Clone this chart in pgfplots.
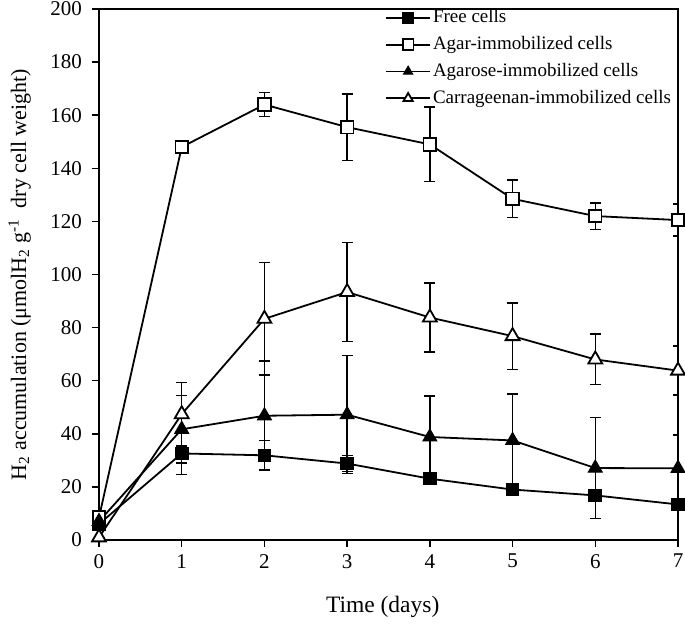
\documentclass[border=0pt]{standalone}
\usepackage{pgfplots}
\pgfplotsset{compat=1.18}
\usepackage{pgfplotstable}
\usepackage{fontspec}
\setmainfont{Liberation Serif}
\pgfplotstableread{
x y e
0 6 0
1 32.6 8
2 31.9 5.5
3 28.8 3
4 23.1 1
5 19 1
6 16.8 2
7 13.4 1
}\freecells
\pgfplotstableread{
x y e
0 8.5 0
1 148 0
2 164 4.5
3 155.5 12.5
4 149 14
5 128.5 7
6 122 5
7 120.5 6
}\agar
\pgfplotstableread{
x y e
0 7 0
1 41.7 12.7
2 46.8 20.7
3 47.2 22.2
4 38.8 15.5
5 37.5 17.5
6 27.1 19
7 27 12.5
}\agarose
\pgfplotstableread{
x y e
0 1 0
1 47.4 12
2 83.3 21.2
3 93.4 18.6
4 83.8 13
5 76.8 12.5
6 68 9.5
7 63.8 9.2
}\carr
\begin{document}
\fontsize{21bp}{24bp}\selectfont
\begin{tikzpicture}
\begin{axis}[
  name=ax,
  scale only axis, width=579bp, height=531bp,
  xmin=0, xmax=7, ymin=0, ymax=200,
  xtick={0,1,...,7}, ytick={0,20,...,200},
  tick align=outside, tick pos=left,
  major tick length=7bp,
  axis line style={line width=1.9bp},
  every tick/.style={line width=1.5bp, black},
  /pgf/number format/assume math mode=true,
  ticklabel style={font=\fontsize{21bp}{24bp}\selectfont},
  yticklabel style={xshift=-3bp},
  xlabel={Time (days)},
  xlabel style={at={(axis description cs:0.49,-0.126)}, anchor=center,
    font=\fontsize{23.5bp}{26bp}\selectfont},
  ylabel={H\textsubscript{2} accumulation (μmolH\textsubscript{2} g\textsuperscript{-1}\ \ dry cell weight)},
  ylabel style={at={(axis description cs:-0.137,0.5)}, anchor=center,
    font=\fontsize{22bp}{24bp}\selectfont},
  legend style={at={(axis description cs:0.494,1)}, anchor=north west, draw=none, fill=none,
    font=\fontsize{19bp}{22bp}\selectfont, cells={anchor=west}, row sep=6.5bp,
    inner sep=0pt, yshift=1.5bp},
  legend image code/.code={\draw[mark repeat=2,mark phase=2,line width=1.8bp, mark size=5.3bp] plot coordinates {(0bp,0bp) (22bp,0bp) (44bp,0bp)};},
  every axis plot/.append style={black, line width=1.8bp},
  error bars/y dir=both, error bars/y explicit,
  error bars/error bar style={line width=1.5bp, black},
  error bars/error mark options={rotate=90, mark size=5.5bp, line width=1.5bp, black},
]
\addplot[mark=square*, mark size=6.3bp, mark options={fill=black, line width=1bp}]
  table[x=x, y=y, y error=e] {\freecells};
\addlegendentry{Free cells}
\addplot[mark=square*, mark size=6.3bp, mark options={fill=white, line width=1.8bp}]
  table[x=x, y=y, y error=e] {\agar};
\addlegendentry{Agar-immobilized cells}
\addplot[mark=triangle*, mark size=8bp, mark options={fill=black, line width=1bp}]
  table[x=x, y=y, y error=e] {\agarose};
\addlegendentry{Agarose-immobilized cells}
\addplot[mark=triangle*, mark size=8bp, mark options={fill=white, line width=1.8bp}]
  table[x=x, y=y, y error=e] {\carr};
\addlegendentry{Carrageenan-immobilized cells}
\end{axis}
\pgfresetboundingbox
\path ([shift={(-99bp,-85bp)}]ax.south west) rectangle ([shift={(7bp,9bp)}]ax.north east);
\end{tikzpicture}
\end{document}
